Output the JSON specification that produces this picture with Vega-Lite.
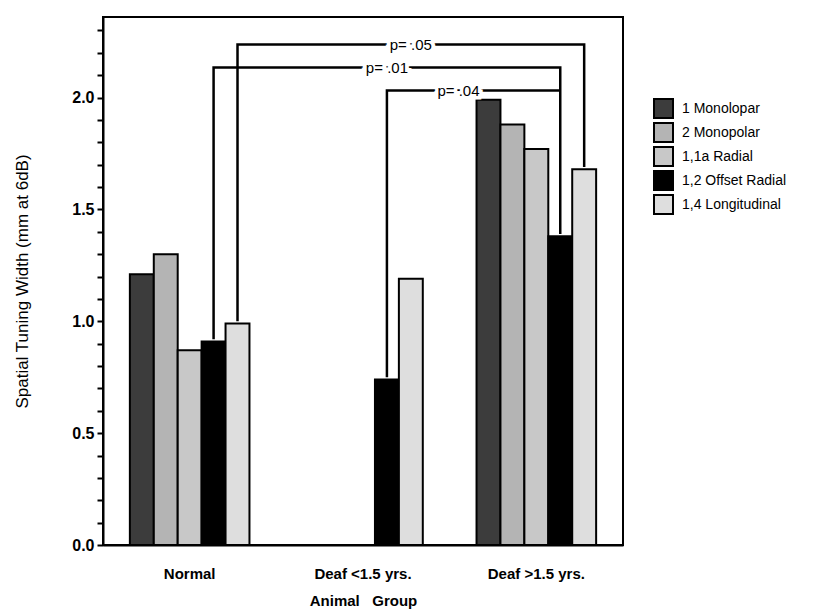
{
  "$schema": "https://vega.github.io/schema/vega-lite/v6.json",
  "width": 520,
  "height": 528,
  "autosize": "none",
  "padding": {"left": 103, "top": 17, "right": 198, "bottom": 65},
  "background": "white",
  "config": {
    "view": {"stroke": "#000", "strokeWidth": 2},
    "font": "Liberation Sans"
  },
  "datasets": {
    "bars": [
      {"group": "Normal", "series": "1 Monolopar", "value": 1.21},
      {"group": "Normal", "series": "2 Monopolar", "value": 1.30},
      {"group": "Normal", "series": "1,1a Radial", "value": 0.87},
      {"group": "Normal", "series": "1,2 Offset Radial", "value": 0.91},
      {"group": "Normal", "series": "1,4  Longitudinal", "value": 0.99},
      {"group": "Deaf <1.5 yrs.", "series": "1,2 Offset Radial", "value": 0.74},
      {"group": "Deaf <1.5 yrs.", "series": "1,4  Longitudinal", "value": 1.19},
      {"group": "Deaf >1.5 yrs.", "series": "1 Monolopar", "value": 1.99},
      {"group": "Deaf >1.5 yrs.", "series": "2 Monopolar", "value": 1.88},
      {"group": "Deaf >1.5 yrs.", "series": "1,1a Radial", "value": 1.77},
      {"group": "Deaf >1.5 yrs.", "series": "1,2 Offset Radial", "value": 1.38},
      {"group": "Deaf >1.5 yrs.", "series": "1,4  Longitudinal", "value": 1.68}
    ],
    "brackets": [
      {"bracket": "p05", "seq": 1, "group": "Normal", "series": "1,4  Longitudinal", "value": 1.0},
      {"bracket": "p05", "seq": 2, "group": "Normal", "series": "1,4  Longitudinal", "value": 2.237},
      {"bracket": "p05", "seq": 3, "group": "Deaf >1.5 yrs.", "series": "1,4  Longitudinal", "value": 2.237},
      {"bracket": "p05", "seq": 4, "group": "Deaf >1.5 yrs.", "series": "1,4  Longitudinal", "value": 1.69},
      {"bracket": "p01", "seq": 1, "group": "Normal", "series": "1,2 Offset Radial", "value": 0.92},
      {"bracket": "p01", "seq": 2, "group": "Normal", "series": "1,2 Offset Radial", "value": 2.134},
      {"bracket": "p01", "seq": 3, "group": "Deaf >1.5 yrs.", "series": "1,2 Offset Radial", "value": 2.134},
      {"bracket": "p01", "seq": 4, "group": "Deaf >1.5 yrs.", "series": "1,2 Offset Radial", "value": 1.39},
      {"bracket": "p04", "seq": 1, "group": "Deaf <1.5 yrs.", "series": "1,2 Offset Radial", "value": 0.75},
      {"bracket": "p04", "seq": 2, "group": "Deaf <1.5 yrs.", "series": "1,2 Offset Radial", "value": 2.031},
      {"bracket": "p04", "seq": 3, "group": "Deaf >1.5 yrs.", "series": "1,2 Offset Radial", "value": 2.031}
    ],
    "labels": [
      {"label": "p= .05", "group": "Deaf <1.5 yrs.", "series": "1,4  Longitudinal", "value": 2.237},
      {"label": "p= .01", "group": "Deaf <1.5 yrs.", "series": "1,2 Offset Radial", "value": 2.134}
    ],
    "labels2": [
      {"label": "p= .04", "group": "Deaf >1.5 yrs.", "series": "1 Monolopar", "value": 2.031}
    ]
  },
  "encoding": {
    "x": {
      "field": "group",
      "type": "nominal",
      "scale": {"domain": ["Normal", "Deaf <1.5 yrs.", "Deaf >1.5 yrs."], "paddingInner": 0.31, "paddingOuter": 0.155},
      "axis": {
        "title": "Animal\u00a0\u00a0\u00a0Group",
        "labelAngle": 0,
        "ticks": false,
        "labelPadding": 21,
        "labelFontSize": 15,
        "labelFontWeight": "bold",
        "labelColor": "#000",
        "domainColor": "#000",
        "domainWidth": 2,
        "titleFontSize": 15,
        "titleFontWeight": "bold",
        "titleColor": "#000",
        "titlePadding": 12
      }
    },
    "xOffset": {
      "field": "series",
      "type": "nominal",
      "scale": {"domain": ["1 Monolopar", "2 Monopolar", "1,1a Radial", "1,2 Offset Radial", "1,4  Longitudinal"]}
    },
    "y": {
      "field": "value",
      "type": "quantitative",
      "scale": {"domain": [0, 2.36], "nice": false},
      "axis": {
        "values": [0, 0.1, 0.2, 0.3, 0.4, 0.5, 0.6, 0.7, 0.8, 0.9, 1.0, 1.1, 1.2, 1.3, 1.4, 1.5, 1.6, 1.7, 1.8, 1.9, 2.0, 2.1, 2.2, 2.3],
        "labelExpr": "abs(datum.value * 2 - round(datum.value * 2)) < 0.001 ? format(datum.value, '.1f') : ''",
        "grid": false,
        "tickSize": 6,
        "tickWidth": 2,
        "tickColor": "#000",
        "domainColor": "#000",
        "domainWidth": 2,
        "labelFontSize": 16,
        "labelFontWeight": "bold",
        "labelColor": "#000",
        "labelPadding": 3,
        "labelOverlap": false,
        "labelFlush": false,
        "title": "Spatial Tuning Width (mm at 6dB)",
        "titleFontSize": 17,
        "titleFontWeight": "normal",
        "titleColor": "#000",
        "titlePadding": 40
      }
    }
  },
  "layer": [
    {
      "data": {"name": "bars"},
      "mark": {"type": "bar", "stroke": "#000", "strokeWidth": 2},
      "encoding": {
        "color": {
          "field": "series",
          "type": "nominal",
          "scale": {
            "domain": ["1 Monolopar", "2 Monopolar", "1,1a Radial", "1,2 Offset Radial", "1,4  Longitudinal"],
            "range": ["#3c3c3c", "#b4b4b4", "#c8c8c8", "#000000", "#dedede"]
          },
          "legend": {
            "title": null,
            "orient": "none",
            "legendX": 550,
            "legendY": 81,
            "symbolType": "square",
            "symbolSize": 361,
            "symbolStrokeColor": "#000",
            "symbolStrokeWidth": 2,
            "symbolOpacity": 1,
            "rowPadding": -4,
            "labelFontSize": 14,
            "labelColor": "#000",
            "labelOffset": 8
          }
        }
      }
    },
    {
      "data": {"name": "brackets"},
      "mark": {"type": "line", "color": "#000", "strokeWidth": 2.5},
      "encoding": {
        "detail": {"field": "bracket"},
        "order": {"field": "seq", "type": "quantitative"}
      }
    },
    {
      "data": {"name": "labels"},
      "mark": {"type": "text", "fontSize": 15, "stroke": "white", "strokeWidth": 8, "fill": "white"},
      "encoding": {
        "text": {"field": "label"}
      }
    },
    {
      "data": {"name": "labels"},
      "mark": {"type": "text", "fontSize": 15, "color": "#000"},
      "encoding": {
        "text": {"field": "label"}
      }
    },
    {
      "data": {"name": "labels2"},
      "mark": {"type": "text", "fontSize": 15, "stroke": "white", "strokeWidth": 7, "fill": "white", "dx": -30},
      "encoding": {
        "text": {"field": "label"}
      }
    },
    {
      "data": {"name": "labels2"},
      "mark": {"type": "text", "fontSize": 15, "color": "#000", "dx": -30},
      "encoding": {
        "text": {"field": "label"}
      }
    }
  ]
}
